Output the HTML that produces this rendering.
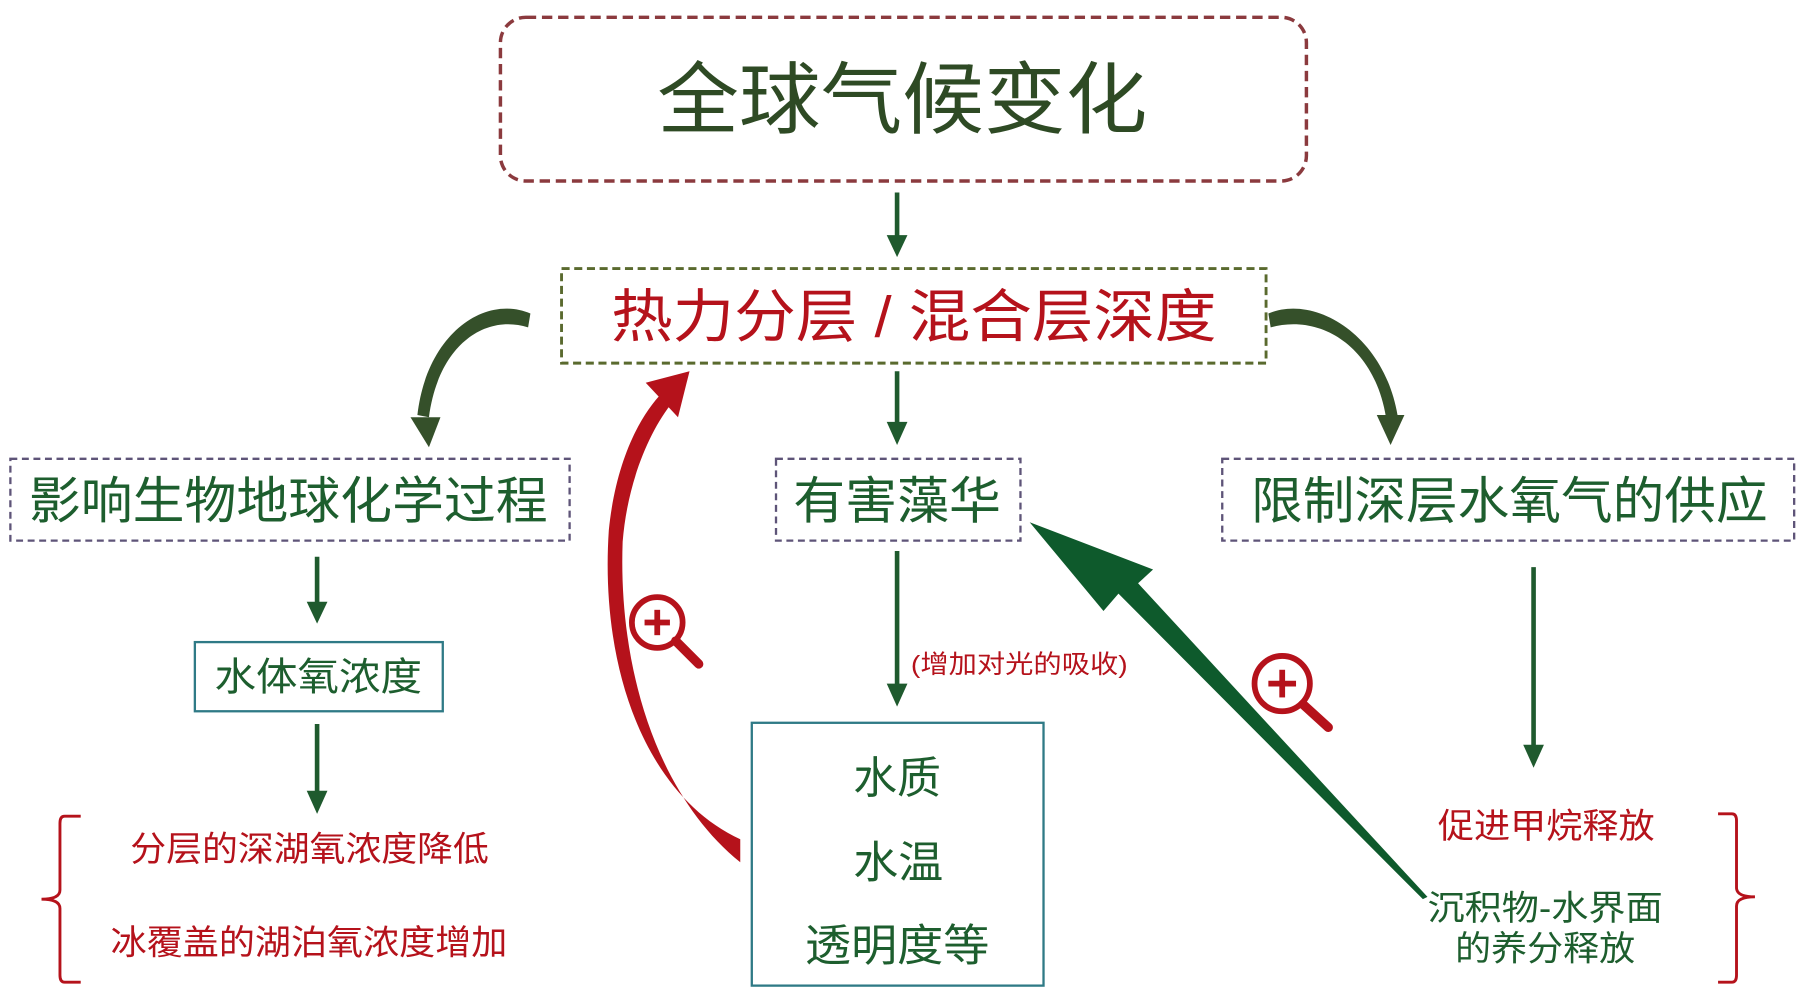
<!DOCTYPE html>
<html><head><meta charset="utf-8"><style>
html,body{margin:0;padding:0;background:#fff;}
svg{display:block;}
text{font-family:"Liberation Sans","Noto Sans CJK SC",sans-serif;}
</style></head><body>
<svg width="1808" height="996" viewBox="0 0 1568 864" preserveAspectRatio="none" xmlns="http://www.w3.org/2000/svg">
<!-- top box -->
<rect x="434" y="15" width="699" height="142" rx="22" fill="none" stroke="#8b3a3e" stroke-width="3" stroke-dasharray="9,5"/>
<text x="570" y="110" textLength="425" lengthAdjust="spacingAndGlyphs" font-size="68" fill="#2e4a24">全球气候变化</text>
<line x1="778" y1="167" x2="778" y2="206" stroke="#1f5a2e" stroke-width="4"/>
<polygon points="769,204 787,204 778,223" fill="#1f5a2e"/>
<rect x="487" y="233" width="611" height="82" fill="none" stroke="#5a6a2e" stroke-width="2.5" stroke-dasharray="7,4"/>
<text x="530" y="292" textLength="525" lengthAdjust="spacingAndGlyphs" font-size="50" fill="#b5121b">热力分层 / 混合层深度</text>
<line x1="778" y1="322" x2="778" y2="368" stroke="#1f5a2e" stroke-width="4"/>
<polygon points="769,366 787,366 778,386" fill="#1f5a2e"/>
<!-- curved dark arrows -->
<path d="M460,272 C420,255 370,290 362,360 L372,362 C380,300 420,272 458,284 Z" fill="#35502a"/>
<polygon points="356,362 382,362 372,388" fill="#35502a"/>
<path d="M1100,272 C1140,255 1200,290 1212,360 L1202,362 C1192,300 1145,272 1102,284 Z" fill="#35502a"/>
<polygon points="1194,360 1218,360 1206,386" fill="#35502a"/>
<!-- row boxes -->
<rect x="9" y="398" width="485" height="71" fill="none" stroke="#5e5478" stroke-width="2" stroke-dasharray="6,4"/>
<text x="25" y="450" textLength="450" lengthAdjust="spacingAndGlyphs" font-size="44" fill="#1d5e2e">影响生物地球化学过程</text>
<rect x="673" y="398" width="212" height="71" fill="none" stroke="#5e5478" stroke-width="2" stroke-dasharray="6,4"/>
<text x="688" y="450" textLength="180" lengthAdjust="spacingAndGlyphs" font-size="44" fill="#1d5e2e">有害藻华</text>
<rect x="1060" y="398" width="496" height="71" fill="none" stroke="#5e5478" stroke-width="2" stroke-dasharray="6,4"/>
<text x="1085" y="450" textLength="448" lengthAdjust="spacingAndGlyphs" font-size="44" fill="#1d5e2e">限制深层水氧气的供应</text>
<!-- left column -->
<line x1="275" y1="483" x2="275" y2="524" stroke="#1f5a2e" stroke-width="4"/>
<polygon points="266,522 284,522 275,541" fill="#1f5a2e"/>
<rect x="169" y="557" width="215" height="60" fill="none" stroke="#2f7a86" stroke-width="2"/>
<text x="186" y="599" textLength="180" lengthAdjust="spacingAndGlyphs" font-size="34" fill="#1d5e2e">水体氧浓度</text>
<line x1="275" y1="628" x2="275" y2="688" stroke="#1f5a2e" stroke-width="4"/>
<polygon points="266,686 284,686 275,706" fill="#1f5a2e"/>
<path d="M70,708 L56,708 Q52,708 52,714 L52,772 Q52,780 36,780 Q52,780 52,788 L52,846 Q52,852 56,852 L70,852" fill="none" stroke="#b5121b" stroke-width="2.5"/>
<text x="113" y="747" textLength="311" lengthAdjust="spacingAndGlyphs" font-size="30" fill="#b5121b">分层的深湖氧浓度降低</text>
<text x="96" y="828" textLength="344" lengthAdjust="spacingAndGlyphs" font-size="30" fill="#b5121b">冰覆盖的湖泊氧浓度增加</text>
<!-- middle column -->
<line x1="778" y1="478" x2="778" y2="595" stroke="#1f5a2e" stroke-width="4"/>
<polygon points="769,593 787,593 778,613" fill="#1f5a2e"/>
<text x="790" y="584" textLength="188" lengthAdjust="spacingAndGlyphs" font-size="22" fill="#b5121b">(增加对光的吸收)</text>
<rect x="652" y="627" width="253" height="228" fill="none" stroke="#2f7a86" stroke-width="2"/>
<text x="740" y="688" textLength="76" lengthAdjust="spacingAndGlyphs" font-size="38" fill="#1d5e2e">水质</text>
<text x="740" y="761" textLength="78" lengthAdjust="spacingAndGlyphs" font-size="38" fill="#1d5e2e">水温</text>
<text x="698" y="833" textLength="160" lengthAdjust="spacingAndGlyphs" font-size="38" fill="#1d5e2e">透明度等</text>
<!-- red curved arrow -->
<path d="M642,728 C560,690 520,580 528,460 C534,400 555,360 575,340 L584,348 C562,375 544,420 540,470 C536,580 570,690 642,748 Z" fill="#b5121b"/>
<polygon points="560,332 598,322 588,362" fill="#b5121b"/>
<!-- green big arrow -->
<polygon points="1238,778 1234,780 970,515 957,530 893,453 1000,494 987,506" fill="#0e5a2c"/>
<!-- right column -->
<line x1="1330" y1="492" x2="1330" y2="648" stroke="#1f5a2e" stroke-width="4"/>
<polygon points="1321,646 1339,646 1330,666" fill="#1f5a2e"/>
<text x="1247" y="727" textLength="188" lengthAdjust="spacingAndGlyphs" font-size="30" fill="#b5121b">促进甲烷释放</text>
<text x="1238" y="798" textLength="204" lengthAdjust="spacingAndGlyphs" font-size="30" fill="#1d5e2e">沉积物-水界面</text>
<text x="1262" y="833" textLength="156" lengthAdjust="spacingAndGlyphs" font-size="30" fill="#1d5e2e">的养分释放</text>
<path d="M1490,706 L1502,706 Q1506,706 1506,712 L1506,770 Q1506,778 1522,778 Q1506,778 1506,786 L1506,846 Q1506,852 1502,852 L1490,852" fill="none" stroke="#b5121b" stroke-width="2.5"/>
<!-- magnifiers -->
<g transform="translate(570,540)">
<circle cx="0" cy="0" r="22" fill="#fff" stroke="#b5121b" stroke-width="5"/>
<line x1="-11" y1="0" x2="11" y2="0" stroke="#b5121b" stroke-width="5"/>
<line x1="0" y1="-11" x2="0" y2="11" stroke="#b5121b" stroke-width="5"/>
<line x1="16" y1="16" x2="36" y2="36" stroke="#b5121b" stroke-width="8" stroke-linecap="round"/>
</g>
<g transform="translate(1112,593)">
<circle cx="0" cy="0" r="24" fill="#fff" stroke="#b5121b" stroke-width="5"/>
<line x1="-12" y1="0" x2="12" y2="0" stroke="#b5121b" stroke-width="5"/>
<line x1="0" y1="-12" x2="0" y2="12" stroke="#b5121b" stroke-width="5"/>
<line x1="18" y1="18" x2="40" y2="38" stroke="#b5121b" stroke-width="8" stroke-linecap="round"/>
</g>
</svg>
</body></html>
